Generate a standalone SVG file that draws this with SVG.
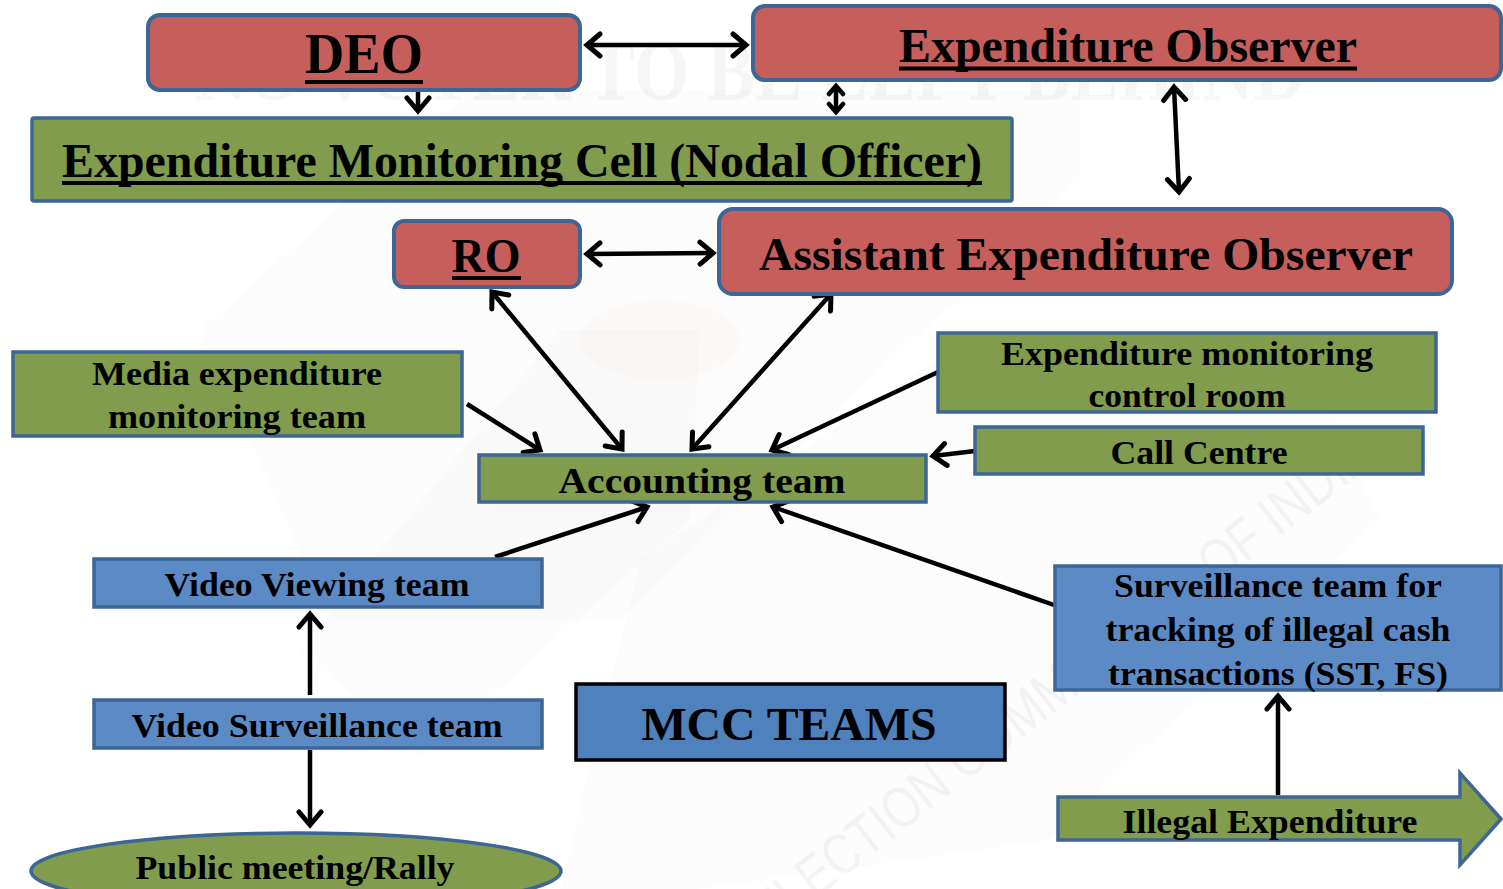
<svg xmlns="http://www.w3.org/2000/svg" width="1503" height="889" viewBox="0 0 1503 889">
  <defs>
    <style>
      .red { fill: #C65F5B; stroke: #3D6596; stroke-width: 4; }
      .green { fill: #819C4C; stroke: #3D6596; stroke-width: 3.5; }
      .blue { fill: #5B8AC5; stroke: #3D6596; stroke-width: 3.5; }
      .mcc { fill: #4F81BD; stroke: #000; stroke-width: 3.5; }
      .t { font-family: "Liberation Serif", "Times New Roman", serif; font-weight: bold; fill: #000; text-anchor: middle; }
      .ul { stroke: #000; stroke-width: 4; }
      .wm { font-family: "Liberation Serif", "Times New Roman", serif; font-weight: bold; fill: #000; opacity: 0.03; }
      .wm2 { font-family: "Liberation Sans Narrow", "Liberation Sans", sans-serif; fill: #000; opacity: 0.035; }
      .conn line { stroke: #000; stroke-width: 4.5; fill: none; }
    </style>
    <marker id="head" viewBox="-18 -14 22 28" refX="0" refY="0" markerWidth="22" markerHeight="28" markerUnits="userSpaceOnUse" orient="auto-start-reverse">
      <path d="M -13 -11 L 0 0 L -13 11" fill="none" stroke="#000" stroke-width="5" stroke-linecap="round" stroke-linejoin="miter"/>
    </marker>
    <marker id="headSmall" viewBox="-12 -10 16 20" refX="0" refY="0" markerWidth="16" markerHeight="20" markerUnits="userSpaceOnUse" orient="auto-start-reverse">
      <path d="M -8 -7 L 0 0 L -8 7" fill="none" stroke="#000" stroke-width="4.5" stroke-linecap="round"/>
    </marker>
  </defs>

  <rect width="1503" height="889" fill="#fff"/>

  <!-- faint background emblem -->
  <g id="watermark">
    <polygon points="200,330 470,90 1080,90 1080,180 620,620 330,620" fill="#000" opacity="0.012"/>
    <polygon points="560,330 700,330 690,520 420,760 300,650" fill="#000" opacity="0.012"/>
    <polygon points="640,560 980,330 1300,360 1380,520 1050,840 700,889 560,889" fill="#000" opacity="0.01"/>
    <ellipse cx="660" cy="340" rx="80" ry="40" fill="#F4B183" opacity="0.05"/>
    <text class="wm" x="195" y="100" font-size="84" textLength="1110" lengthAdjust="spacingAndGlyphs">NO VOTER TO BE LEFT BEHIND</text>
    <text class="wm2" font-size="58" transform="translate(770,935) rotate(-38)" textLength="770" lengthAdjust="spacingAndGlyphs">ELECTION COMMISSION OF INDIA</text>
  </g>

  <!-- connectors -->
  <g id="connectors" class="conn">
    <line x1="587" y1="45" x2="746" y2="45" marker-start="url(#head)" marker-end="url(#head)"/>
    <line x1="418" y1="90" x2="418" y2="111" marker-end="url(#head)"/>
    <line x1="836" y1="86" x2="836" y2="112" marker-start="url(#headSmall)" marker-end="url(#headSmall)"/>
    <line x1="1174" y1="87" x2="1179" y2="192" marker-start="url(#head)" marker-end="url(#head)"/>
    <line x1="587" y1="254" x2="713" y2="253" marker-start="url(#head)" marker-end="url(#head)"/>
    <line x1="492" y1="292" x2="622" y2="449" marker-start="url(#head)" marker-end="url(#head)"/>
    <line x1="831" y1="294" x2="692" y2="449" marker-start="url(#head)" marker-end="url(#head)"/>
    <line x1="467" y1="404" x2="540" y2="450" marker-end="url(#head)"/>
    <line x1="938" y1="372" x2="772" y2="450" marker-end="url(#head)"/>
    <line x1="975" y1="451" x2="933" y2="456" marker-end="url(#head)"/>
    <line x1="495" y1="557" x2="647" y2="507" marker-end="url(#head)"/>
    <line x1="1054" y1="605" x2="773" y2="507" marker-end="url(#head)"/>
    <line x1="310" y1="695" x2="310" y2="614" marker-end="url(#head)"/>
    <line x1="310" y1="750" x2="310" y2="825" marker-end="url(#head)"/>
    <line x1="1278" y1="795" x2="1278" y2="696" marker-end="url(#head)"/>
  </g>

  <g id="deo">
    <rect class="red" x="148" y="15" width="432" height="75" rx="12"/>
    <text class="t" x="364" y="73" font-size="56" textLength="118" lengthAdjust="spacingAndGlyphs">DEO</text>
    <line class="ul" x1="305" y1="82" x2="423" y2="82"/>
  </g>

  <g id="expenditure-observer">
    <rect class="red" x="753" y="6" width="748" height="74" rx="12"/>
    <text class="t" x="1128" y="62" font-size="48" textLength="458" lengthAdjust="spacingAndGlyphs">Expenditure Observer</text>
    <line class="ul" x1="899" y1="68.5" x2="1357" y2="68.5"/>
  </g>

  <g id="monitoring-cell">
    <rect class="green" x="32" y="118" width="980" height="83" rx="2"/>
    <text class="t" x="522" y="177" font-size="48" textLength="920" lengthAdjust="spacingAndGlyphs">Expenditure Monitoring Cell (Nodal Officer)</text>
    <line class="ul" x1="62" y1="183" x2="982" y2="183"/>
  </g>

  <g id="ro">
    <rect class="red" x="394" y="221" width="186" height="66" rx="10"/>
    <text class="t" x="486" y="272" font-size="48" textLength="69" lengthAdjust="spacingAndGlyphs">RO</text>
    <line class="ul" x1="452" y1="278" x2="521" y2="278"/>
  </g>

  <g id="assistant-observer">
    <rect class="red" x="719" y="209" width="733" height="85" rx="14"/>
    <text class="t" x="1086" y="270" font-size="46" textLength="654" lengthAdjust="spacingAndGlyphs">Assistant Expenditure Observer</text>
  </g>

  <g id="media-team">
    <rect class="green" x="13" y="352" width="449" height="84"/>
    <text class="t" x="237" y="385" font-size="34" textLength="290" lengthAdjust="spacingAndGlyphs">Media expenditure</text>
    <text class="t" x="237" y="428" font-size="34" textLength="258" lengthAdjust="spacingAndGlyphs">monitoring team</text>
  </g>

  <g id="control-room">
    <rect class="green" x="938" y="333" width="498" height="79"/>
    <text class="t" x="1187" y="365" font-size="34" textLength="372" lengthAdjust="spacingAndGlyphs">Expenditure monitoring</text>
    <text class="t" x="1187" y="407" font-size="34" textLength="197" lengthAdjust="spacingAndGlyphs">control room</text>
  </g>

  <g id="call-centre">
    <rect class="green" x="975" y="427" width="448" height="47"/>
    <text class="t" x="1199" y="464" font-size="34" textLength="177" lengthAdjust="spacingAndGlyphs">Call Centre</text>
  </g>

  <g id="accounting-team">
    <rect class="green" x="479" y="455" width="447" height="47"/>
    <text class="t" x="702" y="493" font-size="36" textLength="287" lengthAdjust="spacingAndGlyphs">Accounting team</text>
  </g>

  <g id="video-viewing">
    <rect class="blue" x="94" y="559" width="448" height="48"/>
    <text class="t" x="317" y="596" font-size="34" textLength="305" lengthAdjust="spacingAndGlyphs">Video Viewing team</text>
  </g>

  <g id="video-surveillance">
    <rect class="blue" x="94" y="700" width="448" height="48"/>
    <text class="t" x="317" y="737" font-size="34" textLength="371" lengthAdjust="spacingAndGlyphs">Video Surveillance team</text>
  </g>

  <g id="public-meeting">
    <ellipse class="green" cx="296" cy="871" rx="265" ry="38"/>
    <text class="t" x="295" y="879" font-size="34" textLength="319" lengthAdjust="spacingAndGlyphs">Public meeting/Rally</text>
  </g>

  <g id="mcc-teams">
    <rect class="mcc" x="576" y="684" width="429" height="76"/>
    <text class="t" x="789" y="740" font-size="46" textLength="295" lengthAdjust="spacingAndGlyphs">MCC TEAMS</text>
  </g>

  <g id="surveillance-team">
    <rect class="blue" x="1055" y="566" width="446" height="124"/>
    <text class="t" x="1278" y="597" font-size="34" textLength="328" lengthAdjust="spacingAndGlyphs">Surveillance team for</text>
    <text class="t" x="1278" y="641" font-size="34" textLength="345" lengthAdjust="spacingAndGlyphs">tracking of illegal cash</text>
    <text class="t" x="1278" y="685" font-size="34" textLength="340" lengthAdjust="spacingAndGlyphs">transactions (SST, FS)</text>
  </g>

  <g id="illegal-expenditure">
    <polygon class="green" points="1058,797 1460,797 1460,773 1501,819 1460,865 1460,840 1058,840"/>
    <text class="t" x="1270" y="833" font-size="34" textLength="295" lengthAdjust="spacingAndGlyphs">Illegal Expenditure</text>
  </g>
</svg>
